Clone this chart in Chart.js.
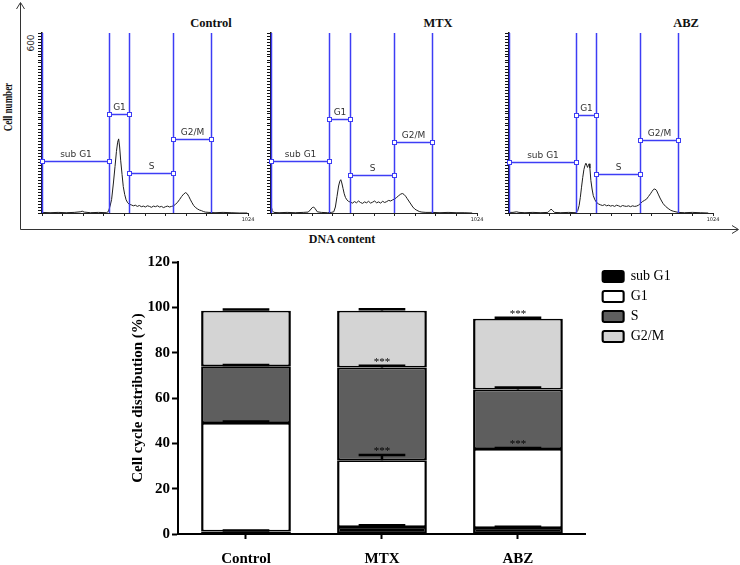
<!DOCTYPE html>
<html lang="en">
<head>
    <meta charset="UTF-8">
    <title>Cell cycle distribution</title>
    <script src="https://cdn.jsdelivr.net/npm/chart.js"></script>
    <style>
        body {
            margin: 0;
            background: #fff;
        }
        #fig {
            position: relative;
            width: 740px;
            height: 565px;
            overflow: hidden;
            font-family: 'Liberation Serif', 'Times New Roman', serif;
        }
        #fig canvas, #fig svg, .lbl {
            position: absolute;
        }
        .lbl {
            white-space: nowrap;
            line-height: 1;
            font-weight: bold;
            color: #111;
            transform: translate(-50%, -50%);
        }
    </style>
</head>
<body>
<div id="fig">
    <svg width="740" height="240" style="left:0;top:0">
        <path d="M20.5 3 V229.5 H738" stroke="#333" stroke-width="1" fill="none"/>
        <path d="M16.5 9 L20.5 2.5 L24.5 9" stroke="#333" stroke-width="1" fill="none"/>
        <path d="M732 225.5 L738.5 229.5 L732 233.5" stroke="#333" stroke-width="1" fill="none"/>
    </svg>
    <div class="lbl" style="left:8px;top:107px;font-size:12px;transform:translate(-50%,-50%) rotate(-90deg) scaleX(0.75)">Cell number</div>
    <div class="lbl" style="left:342px;top:239px;font-size:12px">DNA content</div>
    <div class="lbl" style="left:211px;top:23px;font-size:12.5px">Control</div>
    <div class="lbl" style="left:438px;top:23px;font-size:12.5px">MTX</div>
    <div class="lbl" style="left:686px;top:23px;font-size:12.5px">ABZ</div>
    <div class="lbl" style="left:31px;top:43px;font-size:9px;font-weight:normal;font-family:'DejaVu Sans',sans-serif;color:#222;transform:translate(-50%,-50%) rotate(-90deg)">600</div>

    <canvas id="h0"></canvas>
    <canvas id="h1"></canvas>
    <canvas id="h2"></canvas>
    <canvas id="bars"></canvas>
</div>

<script>
    // ---- DNA histograms (channel 0-1024, cell count 0-600) ----
    const ctrlCh = [0, 40, 80, 120, 160, 190, 200, 210, 240, 280, 320,
        330, 338, 346, 355, 363, 370, 376, 381, 386, 391, 398, 404, 411, 418, 426, 434,
        444, 454, 464, 474, 484, 494, 504, 514, 524, 534, 544, 554, 564, 574, 584, 594, 604, 614, 624, 634, 644,
        654, 664, 674, 684, 694, 704, 714, 722, 730, 738, 746, 754, 762, 772, 782, 792, 802, 812,
        830, 860, 900, 940, 980, 1020];
    const ctrlCount = [2, 1, 2, 1, 2, 4, 6, 3, 1, 2, 1,
        5, 22, 45, 100, 155, 205, 236, 247, 220, 176, 128, 88, 62, 44, 34, 29,
        27, 24, 26, 22, 25, 21, 23, 20, 24, 22, 19, 23, 21, 24, 20, 22, 18, 21, 23, 20, 22,
        24, 29, 36, 45, 55, 63, 68, 64, 55, 44, 34, 25, 19, 14, 10, 8, 5, 3,
        2, 1, 2, 1, 0, 0];

    const mtxCh = [0, 6, 14, 40, 80, 120, 160, 185, 195, 205, 212, 220, 230, 250, 280, 300,
        312, 320, 328, 336, 342, 347, 352, 358, 364, 370, 377, 385,
        395, 405, 415, 425, 435, 445, 455, 465, 475, 485, 495, 505, 515, 525, 535, 545, 555, 565, 575, 585, 595, 605,
        615, 625, 635, 645, 653, 661, 669, 677, 685, 695, 705, 715, 725, 737, 750,
        770, 800, 840, 880, 920, 960, 1000];
    const mtxCount = [26, 8, 2, 1, 2, 1, 2, 3, 10, 18, 20, 14, 4, 2, 1, 2,
        4, 20, 55, 90, 106, 111, 100, 82, 64, 52, 44, 39,
        36, 33, 38, 34, 40, 35, 32, 37, 34, 39, 33, 36, 40, 34, 37, 33, 39, 35, 38, 42, 40, 44,
        47, 52, 58, 63, 65, 62, 56, 48, 40, 30, 20, 13, 9, 5, 3,
        2, 2, 1, 2, 1, 1, 0];

    const abzCh = [0, 20, 38, 50, 80, 120, 160, 195, 204, 211, 218, 228, 260, 300, 336,
        345, 352, 358, 364, 370, 376, 381, 386, 390, 394, 398, 402, 406, 411, 417, 423, 431, 440,
        450, 460, 470, 480, 490, 500, 510, 520, 530, 540, 550, 560, 570, 580, 590, 600, 610, 620, 630, 640, 650,
        660, 670, 680, 690, 700, 710, 718, 726, 732, 740, 749, 758, 766, 774, 786, 799, 812, 824,
        850, 880, 920, 960, 1000];
    const abzCount = [2, 2, 4, 2, 1, 2, 1, 2, 8, 13, 9, 2, 1, 2, 1,
        8, 25, 52, 86, 118, 145, 158, 166, 160, 152, 158, 164, 150, 108, 80, 58, 44, 35,
        30, 27, 25, 28, 24, 26, 23, 25, 22, 26, 24, 21, 25, 23, 22, 24, 21, 24, 22, 23, 26,
        32, 38, 42, 46, 55, 64, 72, 79, 80, 76, 63, 50, 40, 31, 22, 15, 9, 6,
        2, 1, 2, 1, 0];

    // gate markers: boundaries (channel) and marker height (count) for sub G1, G1, S, G2/M
    const gateNames = ['sub G1', 'G1', 'S', 'G2/M'];
    const ctrlGates = [0, 331, 434, 650, 840];
    const ctrlGateY = [173, 329, 132, 246];
    const mtxGates = [0, 289, 392, 610, 799];
    const mtxGateY = [172, 313, 128, 236];
    const abzGates = [0, 336, 438, 658, 849];
    const abzGateY = [171, 326, 130, 243];

    // ---- stacked bars: cell cycle distribution (%) ----
    const groups = ['Control', 'MTX', 'ABZ'];
    const phaseLabels = ['sub G1', 'G1', 'S', 'G2/M'];
    const subG1 = [1.1, 3.1, 2.6];
    const g1 = [47.9, 29.4, 34.9];
    const sPhase = [25.0, 41.0, 26.2];
    const g2m = [24.5, 25.0, 31.3];
    const subG1Err = [0.4, 0.8, 0.6];
    const g1Err = [0.6, 2.4, 0.4];
    const sErr = [0.6, 0.7, 0.9];
    const g2mErr = [0.5, 0.6, 0.4];
    const subG1Sig = ['', '', ''];
    const g1Sig = ['', '***', '***'];
    const sSig = ['', '***', ''];
    const g2mSig = ['', '', '***'];

    const gateBlue = '#3d3df5';

    const gatePlugin = {
        id: 'gates',
        afterDatasetsDraw(chart, args, opts) {
            const ctx = chart.ctx;
            const area = chart.chartArea;
            const xs = chart.scales.x, ys = chart.scales.y;
            ctx.save();
            ctx.strokeStyle = gateBlue;
            ctx.lineWidth = 1.5;
            opts.bounds.forEach(function(v) {
                const px = Math.round(xs.getPixelForValue(v)) + 0.5;
                ctx.beginPath();
                ctx.moveTo(px, area.top);
                ctx.lineTo(px, area.bottom);
                ctx.stroke();
            });
            ctx.font = '9px "DejaVu Sans", sans-serif';
            ctx.textAlign = 'center';
            ctx.textBaseline = 'alphabetic';
            gateNames.forEach(function(name, i) {
                const x0 = Math.round(xs.getPixelForValue(opts.bounds[i])) + 0.5;
                const x1 = Math.round(xs.getPixelForValue(opts.bounds[i + 1])) + 0.5;
                const py = Math.round(ys.getPixelForValue(opts.heights[i])) + 0.5;
                ctx.strokeStyle = gateBlue;
                ctx.lineWidth = 1.5;
                ctx.beginPath();
                ctx.moveTo(x0, py);
                ctx.lineTo(x1, py);
                ctx.stroke();
                ctx.lineWidth = 1;
                ctx.fillStyle = '#fff';
                [x0, x1].forEach(function(px) {
                    ctx.fillRect(px - 2, py - 2, 4, 4);
                    ctx.strokeRect(px - 2, py - 2, 4, 4);
                });
                ctx.fillStyle = '#333';
                ctx.fillText(name, (x0 + x1) / 2, py - 5);
            });
            ctx.restore();
        }
    };

    function makeHist(id, ch, count, gates, gateY, left, right) {
        const cv = document.getElementById(id);
        cv.width = right - left + 35;
        cv.height = 235;
        cv.style.left = (left - 20) + 'px';
        cv.style.top = '0px';
        return new Chart(cv, {
            type: 'line',
            data: {
                datasets: [{
                    data: ch.map(function(c, i) { return { x: c, y: count[i] }; }),
                    borderColor: '#1e1e1e',
                    borderWidth: 1,
                    pointRadius: 0,
                    tension: 0
                }]
            },
            options: {
                responsive: false,
                animation: false,
                layout: { padding: { left: 10, top: 33, right: 15, bottom: 6 } },
                plugins: {
                    legend: { display: false },
                    tooltip: { enabled: false },
                    gates: { bounds: gates, heights: gateY }
                },
                scales: {
                    x: {
                        type: 'linear',
                        min: 0,
                        max: 1024,
                        afterFit: function(s) { s.height = 16; },
                        ticks: {
                            stepSize: 102.4,
                            autoSkip: false,
                            maxRotation: 0,
                            padding: 1,
                            color: '#222',
                            font: { size: 5, family: 'DejaVu Sans' },
                            callback: function(v) { return Math.round(v) === 1024 ? '1024' : ''; }
                        },
                        grid: { drawOnChartArea: false, tickLength: 3, color: '#222' },
                        border: { color: '#222', width: 1 }
                    },
                    y: {
                        min: 0,
                        max: 600,
                        afterFit: function(s) { s.width = 10; },
                        ticks: { display: false, stepSize: 10 },
                        grid: { drawOnChartArea: false, tickLength: 4, color: '#111' },
                        border: { color: '#111', width: 1.5 }
                    }
                }
            },
            plugins: [gatePlugin]
        });
    }

    makeHist('h0', ctrlCh, ctrlCount, ctrlGates, ctrlGateY, 42, 248);
    makeHist('h1', mtxCh, mtxCount, mtxGates, mtxGateY, 271, 477);
    makeHist('h2', abzCh, abzCount, abzGates, abzGateY, 509, 713);

    // error bars + significance stars on top of each stacked segment
    const errPlugin = {
        id: 'errBars',
        afterDatasetsDraw(chart, args, opts) {
            const ctx = chart.ctx;
            const ys = chart.scales.y;
            ctx.save();
            chart.data.datasets.forEach(function(ds, di) {
                chart.getDatasetMeta(di).data.forEach(function(bar, j) {
                    const top = ys.getValueForPixel(bar.y);
                    const capY = ys.getPixelForValue(top + opts.err[di][j]);
                    const half = bar.width * 0.26;
                    ctx.strokeStyle = '#000';
                    ctx.lineWidth = 2.5;
                    ctx.beginPath();
                    ctx.moveTo(bar.x, bar.y);
                    ctx.lineTo(bar.x, capY);
                    ctx.moveTo(bar.x - half, capY);
                    ctx.lineTo(bar.x + half, capY);
                    ctx.stroke();
                    const sig = opts.sig[di][j];
                    if (sig) {
                        ctx.fillStyle = '#000';
                        ctx.font = '11px "Liberation Serif", serif';
                        ctx.textAlign = 'center';
                        ctx.textBaseline = 'alphabetic';
                        ctx.fillText(sig, bar.x, capY - 1);
                    }
                });
            });
            ctx.restore();
        }
    };

    // nudge the legend a little right of the plot area
    const legendShift = {
        id: 'legendShift',
        afterLayout(chart) {
            const lg = chart.legend;
            const dx = chart.chartArea.right + 10.7 - lg.left;
            lg.left += dx;
            lg.right += dx;
            lg.top += 1.5;
            lg.bottom += 1.5;
        }
    };

    const serif = 'Liberation Serif';
    const barBorder = { top: 1.75, bottom: 1.75, left: 2.5, right: 2.5 };
    const barCv = document.getElementById('bars');
    barCv.width = 620;
    barCv.height = 315;
    barCv.style.left = '120px';
    barCv.style.top = '250px';

    new Chart(barCv, {
        type: 'bar',
        data: {
            labels: groups,
            datasets: [
                { label: phaseLabels[0], data: subG1, backgroundColor: '#000' },
                { label: phaseLabels[1], data: g1, backgroundColor: '#fff' },
                { label: phaseLabels[2], data: sPhase, backgroundColor: '#5e5e5e' },
                { label: phaseLabels[3], data: g2m, backgroundColor: '#d4d4d4' }
            ].map(function(d) {
                d.borderColor = '#000';
                d.borderWidth = barBorder;
                d.borderSkipped = false;
                d.barPercentage = 0.66;
                d.categoryPercentage = 1;
                return d;
            })
        },
        options: {
            responsive: false,
            animation: false,
            layout: { padding: { left: 0, top: 12, right: 70, bottom: 0 } },
            plugins: {
                tooltip: { enabled: false },
                legend: {
                    position: 'right',
                    align: 'start',
                    labels: {
                        color: '#000',
                        font: { size: 14, family: serif },
                        boxWidth: 21,
                        boxHeight: 11,
                        padding: 6,
                        useBorderRadius: true,
                        borderRadius: 2
                    }
                },
                errBars: {
                    err: [subG1Err, g1Err, sErr, g2mErr],
                    sig: [subG1Sig, g1Sig, sSig, g2mSig]
                }
            },
            scales: {
                x: {
                    stacked: true,
                    afterFit: function(s) { s.height = 31; },
                    ticks: { color: '#000', padding: 11, font: { size: 15, weight: 'bold', family: serif } },
                    grid: { offset: false, drawOnChartArea: false, tickLength: 5, tickWidth: 2, tickColor: '#000' },
                    border: { color: '#000', width: 2 }
                },
                y: {
                    stacked: true,
                    min: 0,
                    max: 120,
                    afterFit: function(s) { s.width = 58; },
                    ticks: { stepSize: 20, color: '#000', padding: 2, font: { size: 15, weight: 'bold', family: serif } },
                    grid: { drawOnChartArea: false, tickLength: 6, tickWidth: 2, tickColor: '#000' },
                    border: { color: '#000', width: 2 },
                    title: {
                        display: true,
                        text: 'Cell cycle distribution (%)',
                        color: '#000',
                        padding: { top: 9, bottom: 4 },
                        font: { size: 15, weight: 'bold', family: serif }
                    }
                }
            }
        },
        plugins: [errPlugin, legendShift]
    });
</script>
</body>
</html>
